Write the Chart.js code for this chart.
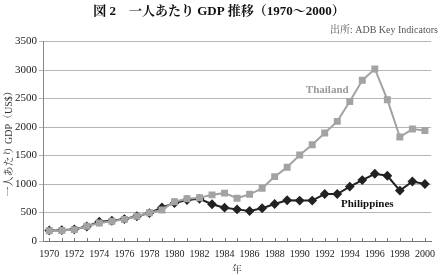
<!DOCTYPE html>
<html>
<head>
<meta charset="utf-8">
<script src="https://cdn.jsdelivr.net/npm/chart.js@4.4.1/dist/chart.umd.min.js"></script>
<style>
  html, body { margin: 0; padding: 0; background: #fff; }
  #wrap { width: 442px; height: 276px; }
</style>
</head>
<body>
<div id="wrap"><canvas id="gdpChart" width="442" height="276"></canvas></div>
<script>
// --- Data ---
const years = [1970, 1971, 1972, 1973, 1974, 1975, 1976, 1977, 1978, 1979,
               1980, 1981, 1982, 1983, 1984, 1985, 1986, 1987, 1988, 1989,
               1990, 1991, 1992, 1993, 1994, 1995, 1996, 1997, 1998, 1999, 2000];
const thailand = [180, 183, 200, 260, 315, 345, 380, 435, 495, 545,
                  690, 740, 760, 810, 840, 750, 820, 925, 1130, 1295,
                  1510, 1690, 1895, 2100, 2450, 2820, 3020, 2480, 1825, 1965, 1940];
const philippines = [185, 190, 205, 255, 340, 355, 385, 435, 490, 590,
                     665, 720, 740, 645, 585, 555, 527, 575, 650, 715,
                     710, 710, 825, 825, 955, 1070, 1180, 1145, 885, 1045, 1000];
const yTicks = [0, 500, 1000, 1500, 2000, 2500, 3000, 3500];

// series name labels placed inside the plot (year, value)
const seriesLabels = [
    { text: 'Thailand', year: 1992.2, value: 2640, color: '#999999' },
    { text: 'Philippines', year: 1995.4, value: 650, color: '#111111' }
];

const serif = '"Liberation Serif", "Noto Serif CJK JP", "Noto Sans CJK JP", serif';

// --- Plugin: inward x ticks + series labels ---
const extras = {
    id: 'extras',
    afterDatasetsDraw(chart) {
        const ctx = chart.ctx;
        const xs = chart.scales.x;
        const ys = chart.scales.y;
        const bottom = chart.chartArea.bottom;

        ctx.save();
        ctx.strokeStyle = '#777';
        ctx.lineWidth = 1;
        years.forEach((yr, i) => {
            const px = Math.round(xs.getPixelForTick(i)) + 0.5;
            ctx.beginPath();
            ctx.moveTo(px, bottom);
            ctx.lineTo(px, bottom - 3);
            ctx.stroke();
        });

        ctx.font = 'bold 11px ' + serif;
        ctx.textAlign = 'center';
        ctx.textBaseline = 'middle';
        seriesLabels.forEach(l => {
            const i = l.year - years[0];
            const px = xs.getPixelForValue(i);
            ctx.fillStyle = l.color;
            ctx.fillText(l.text, px, ys.getPixelForValue(l.value));
        });
        ctx.restore();
    }
};

const ctx = document.getElementById('gdpChart').getContext('2d');
new Chart(ctx, {
    type: 'line',
    data: {
        labels: years.map(String),
        datasets: [{
            label: 'Thailand',
            data: thailand,
            borderColor: '#a3a3a3',
            backgroundColor: '#a3a3a3',
            borderWidth: 2,
            pointStyle: 'rect',
            pointRadius: 3.5,
            pointHoverRadius: 3.5,
            tension: 0
        }, {
            label: 'Philippines',
            data: philippines,
            borderColor: '#222222',
            backgroundColor: '#222222',
            borderWidth: 2,
            pointStyle: 'rectRot',
            pointRadius: 3.5,
            pointHoverRadius: 3.5,
            tension: 0
        }]
    },
    options: {
        responsive: false,
        animation: false,
        layout: { padding: { left: 0, right: 4, top: 0, bottom: 0 } },
        plugins: {
            legend: { display: false },
            tooltip: { enabled: false },
            title: {
                display: true,
                text: '図 2　一人あたり GDP 推移（1970〜2000）',
                color: '#111',
                font: { family: serif, size: 13, weight: 'bold' },
                padding: { top: 4, bottom: 4 }
            },
            subtitle: {
                display: true,
                text: '出所: ADB Key Indicators',
                align: 'end',
                color: '#555',
                font: { family: serif, size: 10 },
                padding: { top: 1, bottom: 5 }
            }
        },
        scales: {
            x: {
                type: 'category',
                offset: true,
                afterFit: s => { s.height = 35; },
                grid: { display: false, drawTicks: false },
                border: { display: true, color: '#777', width: 1 },
                ticks: {
                    autoSkip: false,
                    maxRotation: 0,
                    padding: 7,
                    color: '#222',
                    font: { family: serif, size: 10 },
                    callback: function (val, i) {
                        return years[i] % 2 === 0 ? String(years[i]) : '';
                    }
                },
                title: {
                    display: true,
                    text: '年',
                    color: '#333',
                    font: { family: serif, size: 10 },
                    padding: { top: 4, bottom: 0 }
                }
            },
            y: {
                min: 0,
                max: 3500,
                afterBuildTicks: s => { s.ticks = yTicks.map(v => ({ value: v })); },
                afterFit: s => { s.width = 43; },
                grid: { color: '#b5b5b5', lineWidth: 1, tickLength: 4 },
                border: { display: true, color: '#888', width: 1 },
                ticks: {
                    padding: 2,
                    color: '#222',
                    font: { family: serif, size: 11 },
                    callback: v => String(v)
                },
                title: {
                    display: true,
                    text: '一人あたり GDP（US$）',
                    color: '#333',
                    font: { family: serif, size: 10 },
                    padding: { top: 3, bottom: 0 }
                }
            }
        }
    },
    plugins: [extras]
});
</script>
</body>
</html>
